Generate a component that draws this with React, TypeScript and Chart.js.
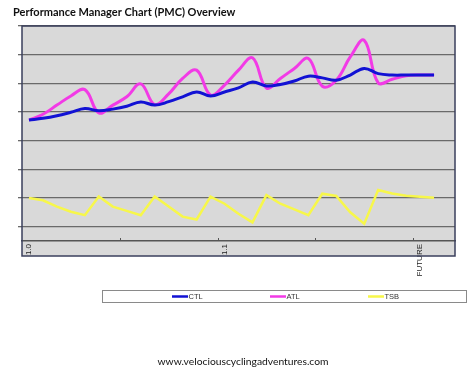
import React, { useEffect, useRef } from 'react';
import { Chart, registerables } from 'chart.js';

Chart.register(...registerables);

const categories = [
  '1.0', '', '', '', '', '', '', '', '', '', '', '', '', '',
  '1.1', '', '', '', '', '', '', '', '', '', '', '', '', '',
  'FUTURE', '', '',
];

const ctl = [27.2, 27.8, 28.7, 29.9, 31.2, 30.4, 31.0, 32.0, 33.5, 32.4, 33.6, 35.3, 37.0, 35.6, 37.0,
  38.4, 40.5, 39.1, 39.6, 40.8, 42.5, 41.9, 41.1, 42.9, 45.2, 43.4, 42.9, 42.9, 42.9, 42.9];
const atl = [27.2, 29.2, 32.4, 35.6, 37.8, 29.7, 32.4, 35.3, 39.8, 32.6, 36.3, 41.7, 44.6, 35.9, 39.4,
  44.6, 48.9, 38.4, 41.7, 45.2, 48.7, 39.0, 41.1, 49.2, 55.0, 40.2, 41.4, 42.6, 42.9, 42.9];
const tsb = [0, -0.8, -3.0, -4.8, -6.0, 0.5, -3.0, -4.5, -6.0, 0.5, -3.0, -6.5, -7.5, 0.5, -2.0,
  -5.5, -8.5, 1.0, -2.0, -4.0, -6.0, 1.5, 0.7, -5.0, -9.0, 2.8, 1.6, 0.8, 0.4, 0.1];

const yTicks = [-10, 0, 10, 20, 30, 40, 50, 60];
const seriesNames = ['CTL', 'ATL', 'TSB'];
const seriesColors = ['#1212d4', '#f23ae6', '#f7f74a'];
const titleText = 'Performance Manager Chart (PMC) Overview';
const footerText = 'www.velociouscyclingadventures.com';

const framePlugin = {
  id: 'frame',
  beforeDraw(chart: any) {
    const { ctx, chartArea: a } = chart;
    ctx.save();
    ctx.fillStyle = '#ffffff';
    ctx.fillRect(0, 0, chart.width, chart.height);
    ctx.fillStyle = '#d9d9d9';
    ctx.fillRect(a.left, a.top, a.right - a.left, a.bottom + 15 - a.top);
    ctx.restore();
  },
  afterDraw(chart: any) {
    const { ctx, chartArea: a } = chart;
    ctx.save();
    // x tick marks every 7 categories
    const xs = chart.scales.x;
    ctx.strokeStyle = '#555';
    ctx.lineWidth = 1;
    for (let k = 7; k < categories.length; k += 7) {
      const px = Math.round((xs.getPixelForTick(k - 1) + xs.getPixelForTick(k)) / 2) + 0.5;
      ctx.beginPath();
      ctx.moveTo(px, a.bottom - 3);
      ctx.lineTo(px, a.bottom);
      ctx.stroke();
    }
    // plot frame
    ctx.strokeStyle = '#3a3f5c';
    ctx.lineWidth = 1.5;
    ctx.strokeRect(a.left, a.top, a.right - a.left, a.bottom + 15 - a.top);

    // title
    ctx.fillStyle = '#111';
    ctx.font = 'bold 11px Lato';
    ctx.textAlign = 'left';
    ctx.textBaseline = 'alphabetic';
    ctx.fillText(titleText, 13, 16);

    // footer
    ctx.font = '10.3px Lato';
    ctx.textAlign = 'center';
    ctx.fillText(footerText, 243, 365);

    // legend
    ctx.strokeStyle = '#8a8a8a';
    ctx.lineWidth = 1;
    ctx.strokeRect(102.5, 290.5, 364, 12);
    const starts = [172, 270, 368];
    chart.data.datasets.forEach((ds: any, i: number) => {
      const x = starts[i];
      ctx.strokeStyle = ds.borderColor;
      ctx.lineWidth = 2.5;
      ctx.beginPath();
      ctx.moveTo(x, 296.5);
      ctx.lineTo(x + 16, 296.5);
      ctx.stroke();
      ctx.fillStyle = '#333';
      ctx.font = '7.5px "Liberation Sans"';
      ctx.textAlign = 'left';
      ctx.textBaseline = 'middle';
      ctx.fillText(ds.label, x + 16.5, 297);
    });
    ctx.restore();
  },
};

export default function App() {
  const ref = useRef<HTMLCanvasElement>(null);
  useEffect(() => {
    if (!ref.current) return;
    const chart = new Chart(ref.current, {
      type: 'line',
      data: {
        labels: categories,
        datasets: [
          { label: seriesNames[0], data: ctl, borderColor: seriesColors[0], borderWidth: 3, tension: 0.4, pointRadius: 0 },
          { label: seriesNames[1], data: atl, borderColor: seriesColors[1], borderWidth: 3, tension: 0.4, pointRadius: 0 },
          { label: seriesNames[2], data: tsb, borderColor: seriesColors[2], borderWidth: 2.5, tension: 0, pointRadius: 0 },
        ],
      },
      options: {
        responsive: false,
        animation: false,
        layout: { padding: { top: 26, right: 19, left: 0, bottom: 0 } },
        plugins: { legend: { display: false }, title: { display: false }, tooltip: { enabled: false } },
        scales: {
          x: {
            type: 'category',
            offset: true,
            grid: { display: false, drawTicks: false },
            border: { display: true, color: '#555', width: 1.5 },
            ticks: {
              autoSkip: false,
              maxRotation: 90,
              minRotation: 90,
              padding: 3,
              color: '#222',
              font: { family: 'Liberation Sans', size: 8 },
            },
            afterFit(s: any) { s.height = 375 - 241; },
          },
          y: {
            min: -15,
            max: 60,
            ticks: { display: false },
            grid: { color: '#6a6a6a', lineWidth: 1.3, tickLength: 4, drawTicks: true },
            border: { display: false },
            afterBuildTicks(s: any) { s.ticks = yTicks.map((v) => ({ value: v })); },
            afterFit(s: any) { s.width = 22; },
          },
        },
      },
      plugins: [framePlugin],
    });
    return () => chart.destroy();
  }, []);
  return (
    <div style={{ position: 'absolute', left: 0, top: 0, width: 474, height: 375 }}>
      <canvas ref={ref} width={474} height={375} style={{ display: 'block' }} />
    </div>
  );
}
